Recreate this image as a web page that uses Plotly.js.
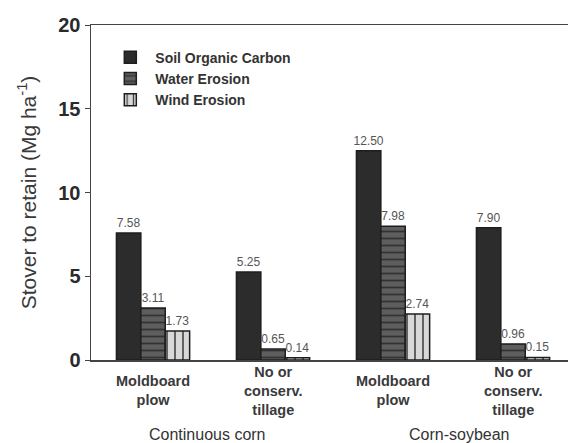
<!DOCTYPE html>
<html>
<head>
<meta charset="utf-8">
<script src="https://cdn.plot.ly/plotly-3.0.1.min.js"></script>
<style>html,body{margin:0;padding:0;background:#fff;}#chart{width:568px;height:443px;}</style>
</head>
<body>
<div id="chart"></div>
<script>
const categories = [0, 1, 2, 3];
const categoryLabels = ["Moldboard<br>plow", "No or<br>conserv.<br>tillage", "Moldboard<br>plow", "No or<br>conserv.<br>tillage"];
const groupLabels = ["Continuous corn", "Corn-soybean"];
const groupCenters = [0.45, 2.55];
const seriesNames = ["Soil Organic Carbon", "Water Erosion", "Wind Erosion"];
const socValues = [7.58, 5.25, 12.50, 7.90];
const waterValues = [3.11, 0.65, 7.98, 0.96];
const windValues = [1.73, 0.14, 2.74, 0.15];

const FONT = 'Liberation Sans, Arial, sans-serif';
const lineStyle = {color: '#1e1e1e', width: 1.5};
const textFont = {family: FONT, size: 12, color: '#555555'};

const traces = [
  {type: 'bar', name: seriesNames[0], x: categories, y: socValues,
   marker: {color: '#2c2c2c', line: lineStyle},
   texttemplate: '%{y:.2f}', textposition: 'outside', textfont: textFont,
   outsidetextfont: textFont, constraintext: 'none', cliponaxis: false},
  {type: 'bar', name: seriesNames[1], x: categories, y: waterValues,
   marker: {color: '#585858', line: lineStyle,
            pattern: {shape: '-', fgcolor: '#333333', bgcolor: '#5e5e5e', size: 7, solidity: 0.25}},
   texttemplate: '%{y:.2f}', textposition: 'outside', textfont: textFont,
   outsidetextfont: textFont, constraintext: 'none', cliponaxis: false},
  {type: 'bar', name: seriesNames[2], x: categories, y: windValues,
   marker: {color: '#d4d4d4', line: lineStyle,
            pattern: {shape: '|', fgcolor: '#444444', bgcolor: '#d8d8d8', size: 8, solidity: 0.2}},
   texttemplate: '%{y:.2f}', textposition: 'outside', textfont: textFont,
   outsidetextfont: textFont, constraintext: 'none', cliponaxis: false}
];

const annotations = [];
categories.forEach((c, i) => {
  annotations.push({x: c, y: -0.0925, xref: 'x', yref: 'paper', text: categoryLabels[i],
    showarrow: false, xanchor: 'center', yanchor: 'middle',
    font: {family: FONT, size: 14.5, color: '#3a3a3a', weight: 'bold'}});
});
groupCenters.forEach((c, i) => {
  annotations.push({x: c, y: -0.221, xref: 'x', yref: 'paper', text: groupLabels[i],
    showarrow: false, xanchor: 'center', yanchor: 'middle',
    font: {family: FONT, size: 16, color: '#333'}});
});

const layout = {
  width: 568, height: 443,
  margin: {l: 91, r: 0, t: 25, b: 83},
  paper_bgcolor: '#fff', plot_bgcolor: '#fff',
  barmode: 'group', bargap: 0.39, bargroupgap: 0,
  showlegend: true,
  legend: {x: 0.03, y: 0.95, xanchor: 'left', yanchor: 'top', bgcolor: 'rgba(0,0,0,0)',
    font: {family: FONT, size: 14, color: '#333', weight: 'bold'},
    tracegroupgap: 0, itemwidth: 40},
  xaxis: {range: [-0.517, 3.458], tickvals: categories, showticklabels: false, ticks: '',
    showline: true, linecolor: '#444', linewidth: 1.5, mirror: true, showgrid: false, zeroline: false},
  yaxis: {range: [0, 20], tickvals: [0, 5, 10, 15, 20], ticks: 'outside', ticklen: 5, tickcolor: '#444',
    showline: true, linecolor: '#444', linewidth: 1.5, showgrid: false, zeroline: false,
    tickfont: {family: FONT, size: 20, color: '#2a2a2a', weight: 'bold'},
    title: {text: 'Stover to retain (Mg ha<sup>-1</sup>)', standoff: 16,
      font: {family: FONT, size: 21, color: '#3a3a3a'}}},
  annotations: annotations
};

Plotly.newPlot('chart', traces, layout, {displayModeBar: false, staticPlot: true});
</script>
</body>
</html>
